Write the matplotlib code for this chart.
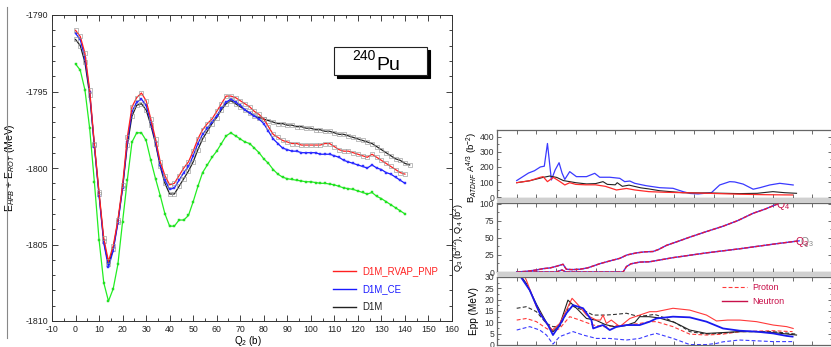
import matplotlib
matplotlib.use("Agg")
import numpy as np
import matplotlib.pyplot as plt
from matplotlib.lines import Line2D
from matplotlib.patches import Rectangle
from matplotlib.ticker import MultipleLocator

plt.rcParams['font.family'] = ['Liberation Sans', 'DejaVu Sans']
plt.rcParams['mathtext.fontset'] = 'custom'
plt.rcParams['mathtext.rm'] = 'Liberation Sans'
plt.rcParams['mathtext.it'] = 'Liberation Sans:italic'
plt.rcParams['mathtext.bf'] = 'Liberation Sans:bold'
plt.rcParams['axes.unicode_minus'] = False

# ---------------- potential energy surface, 240Pu ----------------
q2 = list(range(0, 141, 2))
q2_d1m = list(range(0, 143, 2))

e_rvap_pnp = [
    -1791.0, -1791.4, -1792.5, -1794.9, -1798.4, -1801.6, -1804.6, -1806.1,
    -1805.1, -1803.4, -1801.1, -1798.0, -1796.0, -1795.4, -1795.1, -1795.6,
    -1796.8, -1798.1, -1799.6, -1800.5, -1801.1, -1801.0, -1800.5, -1800.0,
    -1799.6, -1798.9, -1798.1, -1797.5, -1797.1, -1796.8, -1796.3, -1795.8,
    -1795.3, -1795.3, -1795.4, -1795.6, -1795.8, -1796.0, -1796.3, -1796.5,
    -1796.8, -1797.3, -1797.8, -1798.0, -1798.2, -1798.3, -1798.4, -1798.4,
    -1798.5, -1798.5, -1798.5, -1798.5, -1798.5, -1798.4, -1798.4, -1798.6,
    -1798.8, -1798.9, -1798.9, -1799.0, -1799.1, -1799.2, -1799.3, -1799.1,
    -1799.3, -1799.5, -1799.7, -1799.9, -1800.1, -1800.3, -1800.4]

e_ce = [
    -1791.2, -1791.6, -1792.8, -1795.0, -1798.6, -1801.8, -1804.9, -1806.5,
    -1805.4, -1803.6, -1801.3, -1798.3, -1796.3, -1795.7, -1795.5, -1795.9,
    -1797.0, -1798.3, -1799.8, -1800.8, -1801.4, -1801.3, -1800.8, -1800.3,
    -1799.9, -1799.2, -1798.4, -1797.8, -1797.4, -1797.0, -1796.6, -1796.1,
    -1795.7, -1795.5, -1795.7, -1795.9, -1796.2, -1796.4, -1796.6, -1796.8,
    -1797.1, -1797.6, -1798.1, -1798.4, -1798.7, -1798.8, -1798.9, -1798.9,
    -1799.0, -1799.0, -1799.0, -1799.0, -1799.1, -1799.1, -1799.1, -1799.2,
    -1799.3, -1799.5, -1799.6, -1799.7, -1799.8, -1799.9, -1800.0, -1799.8,
    -1800.0, -1800.1, -1800.3, -1800.4, -1800.6, -1800.8, -1801.0]

e_d1m = [
    -1791.6, -1792.0, -1793.1, -1795.2, -1798.5, -1801.7, -1804.8, -1806.3,
    -1805.3, -1803.5, -1801.3, -1798.5, -1796.6, -1795.9, -1795.8, -1796.2,
    -1797.2, -1798.4, -1799.9, -1801.0, -1801.7, -1801.7, -1801.2, -1800.7,
    -1800.2, -1799.6, -1798.8, -1798.1, -1797.6, -1797.1, -1796.7, -1796.2,
    -1795.8, -1795.6, -1795.8, -1796.0, -1796.2, -1796.4, -1796.6, -1796.7,
    -1796.8, -1796.9, -1797.0, -1797.1, -1797.1, -1797.2, -1797.2, -1797.3,
    -1797.3, -1797.4, -1797.4, -1797.5, -1797.5, -1797.6, -1797.6, -1797.7,
    -1797.8, -1797.8, -1797.9, -1798.0, -1798.1, -1798.2, -1798.3, -1798.4,
    -1798.6, -1798.8, -1799.0, -1799.2, -1799.4, -1799.5, -1799.7, -1799.8]

e_green = [
    -1793.2, -1793.6, -1794.9, -1797.4, -1800.9, -1804.7, -1807.5, -1808.7,
    -1807.9, -1806.3, -1803.5, -1800.8, -1798.3, -1797.7, -1797.7, -1798.2,
    -1799.5, -1800.7, -1801.8, -1803.0, -1803.8, -1803.8, -1803.4, -1803.4,
    -1803.1, -1802.2, -1801.2, -1800.3, -1799.8, -1799.3, -1798.9, -1798.4,
    -1797.9, -1797.7, -1797.9, -1798.1, -1798.3, -1798.4, -1798.7, -1799.0,
    -1799.4, -1799.7, -1800.1, -1800.4, -1800.6, -1800.7, -1800.75, -1800.8,
    -1800.85, -1800.9, -1800.9, -1800.95, -1801.0, -1801.0, -1801.05, -1801.1,
    -1801.2, -1801.3, -1801.35, -1801.4, -1801.5, -1801.6, -1801.7, -1801.6,
    -1801.85, -1802.0, -1802.2, -1802.4, -1802.6, -1802.8, -1803.0]

# ---------------- collective inertia ----------------
b_blue_q = [0, 3, 6, 9, 12, 14, 15.6, 17.6, 19.5, 21.5, 23, 24.4, 26.9, 30.3, 35.4,
            39.6, 42.1, 47.2, 52.3, 54.8, 57.4, 59.9, 62.4, 65.8, 72.6, 79.3, 84.4,
            88, 92, 98.8, 103, 108.1, 110.6, 114.9, 120, 123.4, 128.4, 133.5, 140.3]
b_blue = [110, 135, 160, 175, 200, 205, 355, 114, 180, 228, 160, 118, 169, 136, 136,
          158, 132, 132, 125, 103, 107, 92, 85, 76, 63, 59, 37, 25, 22, 30, 81, 103,
          101, 87, 53, 63, 81, 92, 81]
b_black_q = [0, 6.6, 13.4, 16.8, 20.3, 23.7, 26.9, 30, 35.4, 40, 43.8, 46, 50, 51,
             53.6, 57, 63, 67, 72.6, 84.4, 98, 113.2, 122, 130, 136, 142]
b_black = [96, 109, 131, 140, 131, 110, 103, 96, 88, 90, 103, 85, 82, 96, 72, 80,
           62, 55, 43, 30, 28, 24, 26, 37, 30, 26]
b_red_q = [0, 6.6, 11.8, 13.4, 15.6, 18.6, 22, 24.4, 26.9, 30, 35, 40, 45, 50.6,
           55.7, 60, 67, 75, 84.4, 100, 113, 125, 140]
b_red = [96, 109, 131, 136, 103, 131, 103, 81, 96, 85, 82, 82, 72, 48, 58, 48, 37,
         33, 30, 25, 20, 17, 15]

# ---------------- octupole / hexadecapole moments ----------------
q4_q = [0, 5, 10, 13.4, 17, 20.1, 23.5, 25.2, 28, 32, 36, 42, 47, 52.3, 56, 60.8,
        65, 69.2, 72, 76, 82, 87.8, 95, 104.7, 112, 120, 126, 132.7]
q4_val = [0, 1, 3, 4.9, 6, 8.3, 11.3, 4, 3.5, 4, 6, 12, 16, 20, 25, 28, 29.5, 30,
          33, 39, 45, 51, 58, 67, 75, 86, 92, 100]
q3_q = [0, 20, 23, 25, 54, 55.7, 58, 62.4, 67.5, 79.3, 96.3, 113.2, 130, 143.3]
q3_val = [0, 0, 3, 0, 0, 8, 12, 14.5, 15, 21, 28, 34, 40.7, 45.6]

# ---------------- pairing energies ----------------
ep_red_n_q = [0, 3.2, 4.9, 10, 15.1, 18.1, 21.8, 25.2, 28.1, 32, 35.4, 40.4, 42.5, 43.8,
              45.5, 48, 52.3, 57.4, 62.4, 67.5, 70.9, 79.3, 87.8, 96.3, 101.4, 107,
              113.2, 121.7, 130.2, 137, 140.3]
ep_red_n = [36, 31.7, 28.6, 16.9, 9.5, 6.6, 9.5, 15.4, 20.6, 16.9, 13.2, 11, 11, 13.2,
            9.5, 11, 8.1, 11.7, 13.2, 14.7, 14.7, 16.2, 15.4, 13.2, 10.6, 11, 11, 10.3,
            8.8, 8.1, 7.3]
ep_blue_n_q = [0, 1.5, 6.6, 11.7, 15.9, 18.4, 21.8, 25.2, 28.6, 33.7, 37.9, 38.8, 41,
               43.8, 47.2, 50.6, 55.7, 62.4, 67.5, 70.9, 79.3, 87.8, 96.3, 104.7, 113.2,
               121.7, 130.2, 137, 140]
ep_blue_n = [33, 30.8, 24.2, 14, 8.8, 4.4, 8.8, 14, 17.6, 16.2, 11, 7.3, 8, 8.8, 6.6,
             8, 8.8, 8.8, 10.3, 11.7, 12.5, 12.2, 10.3, 7.3, 6.3, 5.9, 5.1, 4, 3.7]
ep_black_n_q = [0, 5, 10, 15.1, 18.4, 21.8, 26, 31.3, 35.4, 40, 45, 50, 55, 60, 62.4,
                67, 72, 80, 87.8, 96.3, 105, 113, 122, 130, 142]
ep_black_n = [33, 27, 18, 9.9, 5.9, 8.8, 19.8, 15.4, 11.7, 11, 9, 8, 8.5, 10, 12.5,
              12.5, 12, 10, 6.6, 5.1, 5.5, 5.9, 5.9, 5.5, 4.4]
ep_black_p_q = [0, 4.9, 10, 15.1, 18.4, 21.8, 25.2, 26.9, 29, 33.7, 38.8, 45, 50, 55.7,
                60, 65, 70, 75, 79.3, 84, 87.8, 96.3, 105, 113, 122, 130, 142]
ep_black_p = [16.2, 16.9, 14.7, 9.5, 8.1, 8.1, 14, 18.4, 16.9, 15.4, 13.2, 13.2, 13.5,
              14, 13, 12.9, 13.5, 12, 10.3, 8, 5.9, 4.8, 5.2, 5.9, 5.9, 5.9, 4.8]
ep_red_p_q = [0, 4.9, 10, 15.1, 18.4, 21.8, 26.9, 32, 38.8, 45, 50, 55.7, 62.4, 67.5,
              70.9, 79.3, 87.8, 96.3, 104.7, 113.2, 130, 140]
ep_red_p = [11, 11.7, 10.3, 7.3, 5.9, 7.3, 12.5, 11, 8.8, 8, 8.5, 8.8, 9.5, 10.3, 10.3,
            8.1, 4.8, 4.4, 4.8, 5.9, 6.3, 5.9]
ep_blue_p_q = [0, 6.6, 11.7, 15.1, 18.4, 21.8, 28.6, 33.7, 40.4, 47, 55.7, 62.4, 67.5,
               70.9, 79.3, 87.8, 96.3, 101.4, 104.7, 113, 130, 140]
ep_blue_p = [6.6, 8.1, 6.6, 4.4, 0.4, 3.7, 5.9, 4.4, 2.9, 2.9, 2.2, 2.9, 4.4, 5.1, 2.9,
             0.2, 0.2, 0.7, 1.4, 2.2, 1.5, 1.5]

legend_labels = ['D1M_RVAP_PNP', 'D1M_CE', 'D1M']
nucleus_mass, nucleus_symbol = '240', 'Pu'

# ---------------- layout helpers (pixel boxes) ----------------
W, H = 831, 347


def box(l, t, r, b):
    return [l / W, 1 - b / H, (r - l) / W, (b - t) / H]


def fx(x):
    return x / W


def fy(y):
    return 1 - y / H


fig = plt.figure(figsize=(W / 100, H / 100), dpi=100)

# thin frame line at the far left
fig.add_artist(Line2D([fx(6.5), fx(6.5)], [fy(7), fy(338)], color='#888888', lw=0.8))

# ---------------- main panel ----------------
ax = fig.add_axes(box(52, 15, 452, 321))
ax.plot(q2, e_green, color='#22ee22', lw=0.9, marker='s', ms=1.8, mec='#22cc22',
        mfc='#22ee22', mew=0.3)
ax.plot(q2_d1m, e_d1m, color='#222222', lw=0.9, marker='s', ms=2.4, mfc='none',
        mec='#999999', mew=0.45)
ax.plot(q2, e_ce, color='#1a1aff', lw=0.9, marker='s', ms=1.5, mfc='#3030ff',
        mec='#3030ff', mew=0.3)
ax.plot(q2, e_rvap_pnp, color='#ff2020', lw=0.9, marker='s', ms=2.4, mfc='none',
        mec='#999999', mew=0.45)

ax.set_xlim(-10, 160)
ax.set_ylim(-1810, -1790)
ax.xaxis.set_major_locator(MultipleLocator(10))
ax.xaxis.set_minor_locator(MultipleLocator(5))
ax.yaxis.set_major_locator(MultipleLocator(5))
ax.yaxis.set_minor_locator(MultipleLocator(1))
ax.tick_params(which='both', direction='in', top=True, right=True, labelsize=6.3,
               colors='#222222', width=0.6, pad=3)
ax.tick_params(which='major', length=4)
ax.tick_params(which='minor', length=2)
for s in ax.spines.values():
    s.set_color('#333333')
    s.set_linewidth(0.7)
ax.set_xlabel('Q$_2$ (b)', fontsize=7.0)
ax.xaxis.set_label_coords(0.49, -0.043)
ax.set_ylabel(r'E$_{\mathit{HFB}}$ + E$_{\mathit{ROT}}$ (MeV)', fontsize=7.5)
ax.yaxis.set_label_coords(-0.088, 0.5)

handles = [Line2D([], [], color=c, lw=1.0) for c in ('#ff2020', '#1a1aff', '#222222')]
leg = ax.legend(handles, legend_labels, loc='upper left', frameon=False,
                bbox_to_anchor=(fx(333), fy(266)), bbox_transform=fig.transFigure,
                fontsize=6.9, handlelength=2.45, handletextpad=0.65, labelspacing=0.85,
                borderpad=0, borderaxespad=0)
for t, c in zip(leg.get_texts(), ('#ff2020', '#1a1aff', '#222222')):
    t.set_color(c)

# nucleus label box with drop shadow
fig.add_artist(Rectangle((fx(336.5), fy(77.5)), (427 - 334) / W, (75 - 47) / H,
                         transform=fig.transFigure, facecolor='black', edgecolor='black',
                         lw=0.8))
fig.add_artist(Rectangle((fx(334), fy(75)), (427 - 334) / W, (75 - 47) / H,
                         transform=fig.transFigure, facecolor='white', edgecolor='#222222',
                         lw=0.8))
fig.text(fx(352), fy(60), nucleus_mass, fontsize=10, va='baseline', ha='left')
fig.text(fx(376), fy(69.5), nucleus_symbol, fontsize=14, va='baseline', ha='left')


# ---------------- right-hand stacked panels ----------------
def style_panel(a, ylim, major, minor):
    a.set_xlim(-10, 160)
    a.set_ylim(*ylim)
    a.xaxis.set_major_locator(MultipleLocator(10))
    a.yaxis.set_major_locator(MultipleLocator(major))
    a.yaxis.set_minor_locator(MultipleLocator(minor))
    a.tick_params(which='both', direction='in', top=True, right=True, labelbottom=False,
                  labelsize=6.2, colors='#333333', width=0.5, pad=2)
    a.tick_params(which='major', length=2.8)
    a.tick_params(which='minor', length=1.5)
    for s in a.spines.values():
        s.set_color('#666666')
        s.set_linewidth(0.9)


axB = fig.add_axes(box(497, 130, 832, 198))
axQ = fig.add_axes(box(497, 203, 832, 272))
axE = fig.add_axes(box(497, 277, 832, 345))

# separator bands between stacked panels
for top, bot in ((198, 203), (272, 277)):
    fig.add_artist(Rectangle((fx(497), fy(bot)), (832 - 497) / W, (bot - top) / H,
                             transform=fig.transFigure, facecolor='#d0d0d0',
                             edgecolor='none'))

axB.plot(b_blue_q, b_blue, color='#3a3aff', lw=0.9)
axB.plot(b_black_q, b_black, color='#222222', lw=0.8)
axB.plot(b_red_q, b_red, color='#ff2a2a', lw=0.9)
style_panel(axB, (-5, 444), 100, 50)
axB.set_ylabel(r'B$_{\mathit{ATDHF}}$ A$^{4/3}$ (b$^{-2}$)', fontsize=6.8)
axB.yaxis.set_label_coords(-0.055, 0.45)

axQ.plot(q4_q, q4_val, color='#3a3aff', lw=1.0)
axQ.plot(q4_q, q4_val, color='#e8143c', lw=1.0, dashes=(3, 1))
axQ.plot(q3_q, q3_val, color='#3a3aff', lw=1.0)
axQ.plot(q3_q, q3_val, color='#e8143c', lw=1.0, dashes=(3, 1))
style_panel(axQ, (0, 101), 25, 12.5)
axQ.set_ylabel(r'Q$_3$ (b$^{3/2}$), Q$_4$ (b$^2$)', fontsize=6.6)
axQ.yaxis.set_label_coords(-0.092, 0.5)
axQ.text(q4_q[-1] - 1.2, q4_val[-1] - 2, 'Q$_4$', color='#c8104a', fontsize=7.5,
         ha='left', va='center', clip_on=False)
axQ.text(q3_q[-1] + 0.5, q3_val[-1] - 2, 'Q$_3$', color='#888888', fontsize=7.5,
         ha='left', va='center', clip_on=False)
axQ.text(q3_q[-1] - 2.0, q3_val[-1] - 1, 'Q$_3$', color='#c8104a', fontsize=7.5,
         ha='left', va='center', clip_on=False)

axE.plot(ep_black_p_q, ep_black_p, color='#333333', lw=0.8, dashes=(3.5, 2))
axE.plot(ep_red_p_q, ep_red_p, color='#ff3a3a', lw=0.8, dashes=(3.5, 2))
axE.plot(ep_blue_p_q, ep_blue_p, color='#3a3aff', lw=0.8, dashes=(3.5, 2))
axE.plot(ep_black_n_q, ep_black_n, color='#222222', lw=0.8)
axE.plot(ep_red_n_q, ep_red_n, color='#ff3a3a', lw=0.8)
axE.plot(ep_blue_n_q, ep_blue_n, color='#1a1aee', lw=1.3)
style_panel(axE, (0, 30), 5, 2.5)
axE.set_ylabel('Epp (MeV)', fontsize=7.2)
axE.yaxis.set_label_coords(-0.055, 0.5)
eh = [Line2D([], [], color='#ff3a3a', lw=0.8, dashes=(3.5, 2)),
      Line2D([], [], color='#c8104a', lw=1.0)]
eleg = axE.legend(eh, ['Proton', 'Neutron'], loc='upper left', frameon=False,
                  bbox_to_anchor=(fx(722), fy(283)), bbox_transform=fig.transFigure,
                  fontsize=6.5, handlelength=2.8, handletextpad=0.6, labelspacing=0.55,
                  borderpad=0, borderaxespad=0)
for t in eleg.get_texts():
    t.set_color('#c8104a')

fig.savefig('out.png', dpi=100)
